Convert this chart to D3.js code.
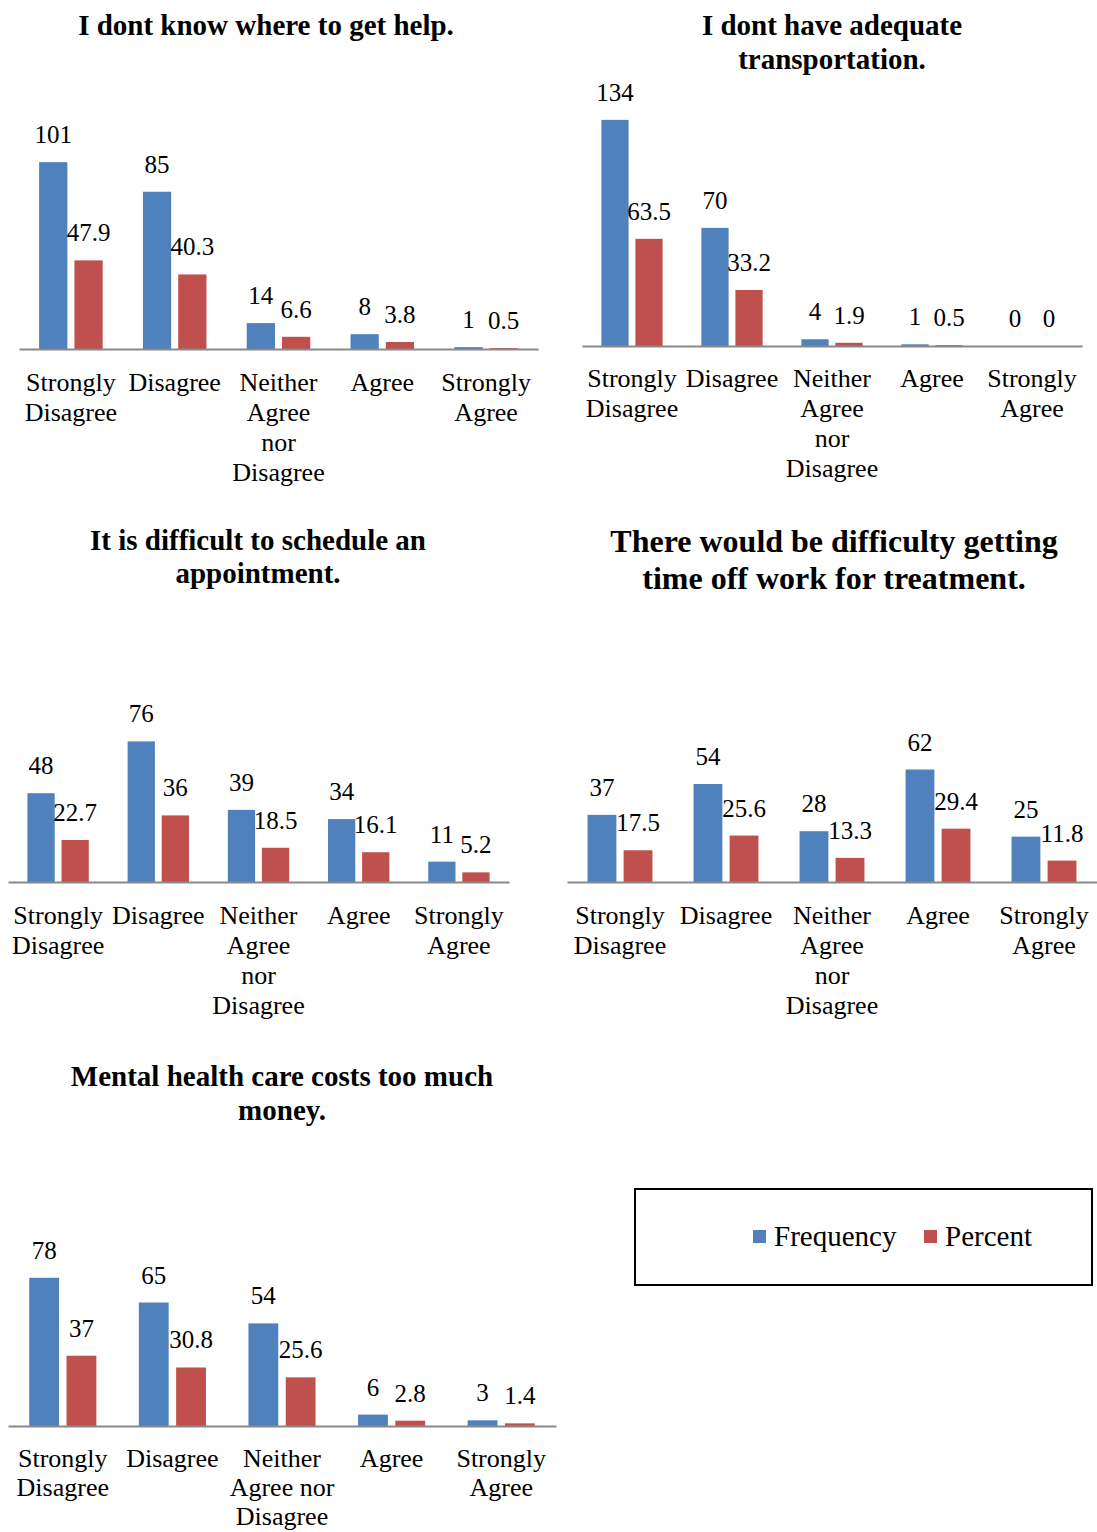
<!DOCTYPE html>
<html>
<head>
<meta charset="utf-8">
<script src="https://cdn.jsdelivr.net/npm/d3@7"></script>
<style>
    body { margin: 0; background: #fff; }
    svg text { font-family: "Liberation Serif", "Times New Roman", serif; fill: #000; }
</style>
</head>
<body>
<svg class="svg" width="1097" height="1532"></svg>
<script>
var series = ['Frequency', 'Percent'];
var categories = ['Strongly Disagree', 'Disagree', 'Neither Agree nor Disagree', 'Agree', 'Strongly Agree'];

// tick labels as they are broken in the picture
var tickLines = [['Strongly', 'Disagree'], ['Disagree'], ['Neither', 'Agree', 'nor', 'Disagree'], ['Agree'], ['Strongly', 'Agree']];
var tickLinesWide = [['Strongly', 'Disagree'], ['Disagree'], ['Neither', 'Agree nor', 'Disagree'], ['Agree'], ['Strongly', 'Agree']];

var helpFreq = [101, 85, 14, 8, 1];
var helpPct = [47.9, 40.3, 6.6, 3.8, 0.5];

var transportFreq = [134, 70, 4, 1, 0];
var transportPct = [63.5, 33.2, 1.9, 0.5, 0];

var scheduleFreq = [48, 76, 39, 34, 11];
var schedulePct = [22.7, 36, 18.5, 16.1, 5.2];

var workFreq = [37, 54, 28, 62, 25];
var workPct = [17.5, 25.6, 13.3, 29.4, 11.8];

var costFreq = [78, 65, 54, 6, 3];
var costPct = [37, 30.8, 25.6, 2.8, 1.4];

var colors = {Frequency: '#4f81bd', Percent: '#c0504d'};

var svg = d3.select('.svg');

drawChart({title: ['I dont know where to get help.'], titleX: 266, titleY: 35, titleSize: 29, titleGap: 34,
    left: 19, right: 538, base: 349, top: 127, yMax: 120, freq: helpFreq, pct: helpPct, ticks: tickLines, tickY: 42, tickGap: 30});

drawChart({title: ['I dont have adequate', 'transportation.'], titleX: 832, titleY: 35, titleSize: 29, titleGap: 34,
    left: 582, right: 1082, base: 346, top: 76, yMax: 160, freq: transportFreq, pct: transportPct, ticks: tickLines, tickY: 41, tickGap: 30});

drawChart({title: ['It is difficult to schedule an', 'appointment.'], titleX: 258, titleY: 550, titleSize: 29, titleGap: 33,
    left: 8, right: 509, base: 882, top: 734, yMax: 80, freq: scheduleFreq, pct: schedulePct, ticks: tickLines, tickY: 42, tickGap: 30});

drawChart({title: ['There would be difficulty getting', 'time off work for treatment.'], titleX: 834, titleY: 552, titleSize: 32, titleGap: 37,
    left: 567, right: 1097, base: 882, top: 755, yMax: 70, freq: workFreq, pct: workPct, ticks: tickLines, tickY: 42, tickGap: 30});

drawChart({title: ['Mental health care costs too much', 'money.'], titleX: 282, titleY: 1086, titleSize: 29, titleGap: 34,
    left: 8, right: 556, base: 1426, top: 1255, yMax: 90, freq: costFreq, pct: costPct, ticks: tickLinesWide, tickY: 41, tickGap: 29});

drawLegend();

function drawChart(c) {
    var g = svg.append('g');

    g.selectAll('.title')
        .data(c.title)
        .enter().append('text')
        .attr('class', 'title')
        .attr('x', c.titleX)
        .attr('y', (d, i) => c.titleY + i * c.titleGap)
        .attr('text-anchor', 'middle')
        .style('font-size', c.titleSize + 'px')
        .style('font-weight', 'bold')
        .text((d) => d);

    var x0 = d3.scaleBand()
        .domain(categories)
        .range([c.left, c.right]);

    var x1 = d3.scaleBand()
        .domain(series)
        .range([0, x0.bandwidth()])
        .paddingInner(0.2)
        .paddingOuter(0.57);

    var y = d3.scaleLinear()
        .domain([0, c.yMax])
        .range([c.base, c.top]);

    var rows = categories.map((cat, i) => {
        return {cat: cat, values: [{key: 'Frequency', v: c.freq[i]}, {key: 'Percent', v: c.pct[i]}]};
    });

    var groups = g.selectAll('.cat')
        .data(rows)
        .enter().append('g')
        .attr('transform', (d) => 'translate(' + x0(d.cat) + ',0)');

    groups.selectAll('rect')
        .data((d) => d.values)
        .enter().append('rect')
        .attr('x', (d) => x1(d.key))
        .attr('y', (d) => y(d.v))
        .attr('width', x1.bandwidth())
        .attr('height', (d) => c.base - y(d.v))
        .attr('fill', (d) => colors[d.key]);

    groups.selectAll('.val')
        .data((d) => d.values)
        .enter().append('text')
        .attr('class', 'val')
        .attr('x', (d) => x1(d.key) + x1.bandwidth() / 2)
        .attr('y', (d) => y(d.v) - 19)
        .attr('text-anchor', 'middle')
        .style('font-size', '25px')
        .text((d) => d.v);

    var axis = g.append('g')
        .attr('transform', 'translate(0,' + c.base + ')')
        .call(d3.axisBottom(x0).tickSize(0).tickFormat(''));

    axis.select('.domain')
        .attr('stroke', '#898989')
        .attr('stroke-width', 2);

    axis.selectAll('.tick text').remove();

    axis.selectAll('.tick')
        .append('text')
        .attr('text-anchor', 'middle')
        .style('font-size', '26px')
        .each(function (d, i) {
            d3.select(this).selectAll('tspan')
                .data(c.ticks[i])
                .enter().append('tspan')
                .attr('x', 0)
                .attr('y', (t, j) => c.tickY + j * c.tickGap)
                .text((t) => t);
        });
}

function drawLegend() {
    var lg = svg.append('g');

    lg.append('rect')
        .attr('x', 635)
        .attr('y', 1189)
        .attr('width', 457)
        .attr('height', 96)
        .attr('fill', 'none')
        .attr('stroke', '#000')
        .attr('stroke-width', 2);

    var pos = d3.scaleOrdinal()
        .domain(series)
        .range([753, 924]);

    var item = lg.selectAll('.item')
        .data(series)
        .enter().append('g')
        .attr('transform', (d) => 'translate(' + pos(d) + ',1230)');

    item.append('rect')
        .attr('width', 13)
        .attr('height', 13)
        .attr('fill', (d) => colors[d]);

    item.append('text')
        .attr('x', 21)
        .attr('y', 16)
        .style('font-size', '29px')
        .text((d) => d);
}
</script>
</body>
</html>
